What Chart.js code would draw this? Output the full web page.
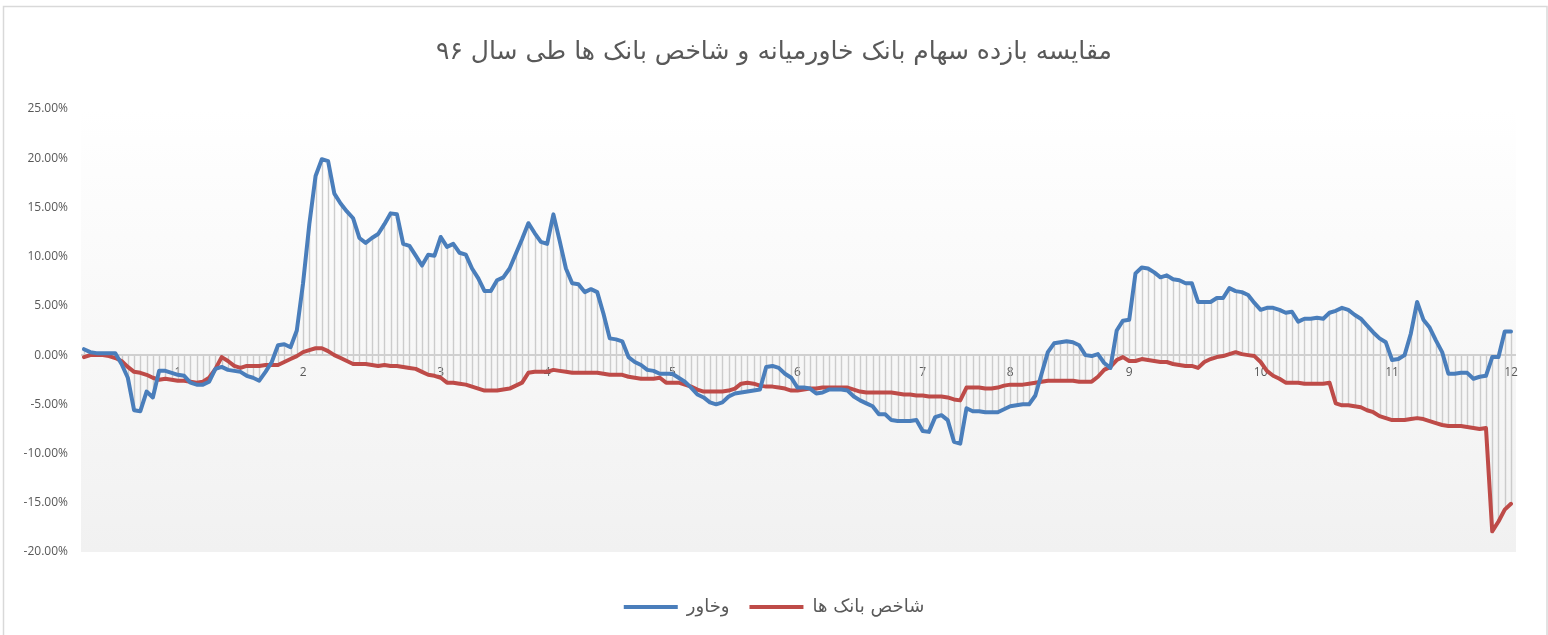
<!DOCTYPE html>
<html>
<head>
<meta charset="utf-8">
<script src="https://cdn.jsdelivr.net/npm/chart.js@4.4.1/dist/chart.umd.min.js"></script>
<style>
  html, body { margin: 0; padding: 0; background: #fff; }
  #wrap { width: 1548px; height: 635px; }
</style>
</head>
<body>
<div id="wrap"><canvas id="chart"></canvas></div>
<script>
// month numbers shown under the zero line (one entry per trading day)
const monthTicks = { 15: "1", 35: "2", 57: "3", 74: "4", 94: "5", 114: "6", 134: "7", 148: "8", 167: "9", 188: "10", 209: "11", 228: "12" }

// وخاور - daily return since start of year, %
const khavar = [
  0.6, 0.3, 0.2, 0.2, 0.2, 0.2, -0.9, -2.3, -5.6, -5.7,
  -3.7, -4.3, -1.6, -1.6, -1.8, -2.0, -2.1, -2.8, -3.0, -3.0,
  -2.7, -1.4, -1.2, -1.5, -1.6, -1.7, -2.1, -2.3, -2.6, -1.7,
  -0.7, 1.0, 1.1, 0.8, 2.5, 7.3, 13.3, 18.2, 19.9, 19.7,
  16.4, 15.4, 14.6, 13.9, 11.9, 11.4, 11.9, 12.3, 13.3, 14.4,
  14.3, 11.3, 11.1, 10.1, 9.1, 10.2, 10.1, 12.0, 11.0, 11.3,
  10.4, 10.2, 8.8, 7.8, 6.5, 6.5, 7.6, 7.9, 8.8, 10.3,
  11.8, 13.4, 12.4, 11.5, 11.3, 14.3, 11.6, 8.8, 7.3, 7.2,
  6.4, 6.7, 6.4, 4.2, 1.7, 1.6, 1.4, -0.2, -0.7, -1.0,
  -1.5, -1.6, -1.9, -1.9, -1.9, -2.3, -2.7, -3.3, -4.0, -4.3,
  -4.8, -5.0, -4.8, -4.2, -3.9, -3.8, -3.7, -3.6, -3.5, -1.2,
  -1.1, -1.3, -1.9, -2.3, -3.3, -3.3, -3.4, -3.9, -3.8, -3.5,
  -3.5, -3.5, -3.6, -4.2, -4.6, -4.9, -5.2, -6.0, -6.0, -6.6,
  -6.7, -6.7, -6.7, -6.6, -7.7, -7.8, -6.3, -6.1, -6.6, -8.8,
  -9.0, -5.4, -5.7, -5.7, -5.8, -5.8, -5.8, -5.5, -5.2, -5.1,
  -5.0, -5.0, -4.1, -1.9, 0.3, 1.2, 1.3, 1.4, 1.3, 1.0,
  0.0, -0.1, 0.1, -0.8, -1.3, 2.5, 3.5, 3.6, 8.3, 8.9,
  8.8, 8.4, 7.9, 8.1, 7.7, 7.6, 7.3, 7.3, 5.4, 5.4,
  5.4, 5.8, 5.8, 6.8, 6.5, 6.4, 6.1, 5.3, 4.6, 4.8,
  4.8, 4.6, 4.3, 4.4, 3.4, 3.7, 3.7, 3.8, 3.7, 4.3,
  4.5, 4.8, 4.6, 4.1, 3.7, 3.0, 2.3, 1.7, 1.3, -0.5,
  -0.4, 0.0, 2.2, 5.4, 3.6, 2.8, 1.5, 0.3, -1.9, -1.9,
  -1.8, -1.8, -2.4, -2.2, -2.1, -0.2, -0.2, 2.4, 2.4
]

// شاخص بانک ها - bank index return, %
const bankIndex = [
  -0.2, 0.0, 0.0, 0.0, -0.1, -0.3, -0.6, -1.2, -1.7, -1.8,
  -2.0, -2.3, -2.5, -2.4, -2.5, -2.6, -2.6, -2.7, -2.8, -2.7,
  -2.3, -1.4, -0.2, -0.6, -1.1, -1.3, -1.1, -1.1, -1.1, -1.0,
  -1.0, -1.0, -0.7, -0.4, -0.1, 0.3, 0.5, 0.7, 0.7, 0.4,
  0.0, -0.3, -0.6, -0.9, -0.9, -0.9, -1.0, -1.1, -1.0, -1.1,
  -1.1, -1.2, -1.3, -1.4, -1.7, -2.0, -2.1, -2.3, -2.8, -2.8,
  -2.9, -3.0, -3.2, -3.4, -3.6, -3.6, -3.6, -3.5, -3.4, -3.1,
  -2.8, -1.8, -1.7, -1.7, -1.7, -1.5, -1.6, -1.7, -1.8, -1.8,
  -1.8, -1.8, -1.8, -1.9, -2.0, -2.0, -2.0, -2.2, -2.3, -2.4,
  -2.4, -2.4, -2.3, -2.8, -2.8, -2.8, -3.0, -3.2, -3.5, -3.7,
  -3.7, -3.7, -3.7, -3.6, -3.4, -2.9, -2.8, -2.9, -3.1, -3.2,
  -3.2, -3.3, -3.4, -3.6, -3.6, -3.5, -3.4, -3.4, -3.3, -3.3,
  -3.3, -3.3, -3.3, -3.5, -3.7, -3.8, -3.8, -3.8, -3.8, -3.8,
  -3.9, -4.0, -4.0, -4.1, -4.1, -4.2, -4.2, -4.2, -4.3, -4.5,
  -4.6, -3.3, -3.3, -3.3, -3.4, -3.4, -3.3, -3.1, -3.0, -3.0,
  -3.0, -2.9, -2.8, -2.7, -2.6, -2.6, -2.6, -2.6, -2.6, -2.7,
  -2.7, -2.7, -2.2, -1.5, -1.2, -0.5, -0.2, -0.6, -0.6, -0.4,
  -0.5, -0.6, -0.7, -0.7, -0.9, -1.0, -1.1, -1.1, -1.3, -0.7,
  -0.4, -0.2, -0.1, 0.1, 0.3, 0.1, 0.0, -0.1, -0.7, -1.6,
  -2.1, -2.4, -2.8, -2.8, -2.8, -2.9, -2.9, -2.9, -2.9, -2.8,
  -4.9, -5.1, -5.1, -5.2, -5.3, -5.6, -5.8, -6.2, -6.4, -6.6,
  -6.6, -6.6, -6.5, -6.4, -6.5, -6.7, -6.9, -7.1, -7.2, -7.2,
  -7.2, -7.3, -7.4, -7.5, -7.4, -17.9, -16.9, -15.7, -15.1
]

const yTicks = [-20, -15, -10, -5, 0, 5, 10, 15, 20, 25]

const labels = khavar.map((v, i) => monthTicks[i] || "")

const textColor = "#595959"
const blue = "#4a7ebb"
const red = "#be4b48"

// white frame, gradient plot box, drop lines and zero line
const backdrop = {
  id: "backdrop",
  beforeDraw(chart) {
    const { ctx, chartArea } = chart
    ctx.save()
    ctx.fillStyle = "#fff"
    ctx.fillRect(0, 0, chart.width, chart.height)
    ctx.strokeStyle = "#d9d9d9"
    ctx.lineWidth = 1.5
    ctx.strokeRect(3.5, 6.5, chart.width - 4.5, chart.height + 10)
    const g = ctx.createLinearGradient(0, chartArea.top, 0, chartArea.bottom)
    g.addColorStop(0, "#ffffff")
    g.addColorStop(1, "#f1f1f1")
    ctx.fillStyle = g
    ctx.fillRect(chartArea.left - 3, chartArea.top, chartArea.right - chartArea.left + 8, chartArea.bottom - chartArea.top)
    ctx.restore()
  },
  beforeDatasetsDraw(chart) {
    const { ctx, chartArea, scales } = chart
    const x = scales.x, y = scales.y
    ctx.save()
    ctx.strokeStyle = "rgba(190,190,190,0.75)"
    ctx.lineWidth = 1.4
    ctx.beginPath()
    for (let i = 0; i < khavar.length; i++) {
      const hi = Math.max(0, khavar[i], bankIndex[i])
      const lo = Math.min(0, khavar[i], bankIndex[i])
      const px = Math.round(x.getPixelForValue(i)) + 0.5
      ctx.moveTo(px, y.getPixelForValue(hi))
      ctx.lineTo(px, y.getPixelForValue(lo))
    }
    ctx.stroke()
    ctx.strokeStyle = "#d0d0d0"
    ctx.lineWidth = 2
    const y0 = y.getPixelForValue(0)
    ctx.beginPath()
    ctx.moveTo(chartArea.left - 3, y0)
    ctx.lineTo(chartArea.right + 5, y0)
    ctx.stroke()
    ctx.restore()
  }
}

new Chart(document.getElementById("chart"), {
  type: "line",
  data: {
    labels: labels,
    datasets: [
      {
        label: "وخاور",
        data: khavar,
        borderColor: blue,
        backgroundColor: blue,
        borderWidth: 4,
        pointRadius: 0,
        tension: 0,
        borderJoinStyle: "round",
        borderCapStyle: "round"
      },
      {
        label: "شاخص بانک ها",
        data: bankIndex,
        borderColor: red,
        backgroundColor: red,
        borderWidth: 4,
        pointRadius: 0,
        tension: 0,
        borderJoinStyle: "round",
        borderCapStyle: "round"
      }
    ]
  },
  options: {
    responsive: true,
    maintainAspectRatio: false,
    animation: false,
    layout: { padding: { left: 0, right: 0, top: 0, bottom: 9 } },
    plugins: {
      tooltip: { enabled: false },
      title: {
        display: true,
        text: "مقایسه بازده سهام بانک خاورمیانه و شاخص بانک ها طی سال ۹۶",
        color: textColor,
        font: { family: "DejaVu Sans", size: 25, weight: "normal" },
        padding: { top: 37, bottom: 42 }
      },
      legend: {
        position: "bottom",
        title: {
          display: true,
          text: " ",
          font: { size: 10 },
          padding: { top: 7, bottom: 7 }
        },
        labels: {
          color: textColor,
          font: { family: "DejaVu Sans", size: 18 },
          boxWidth: 54,
          boxHeight: 4,
          padding: 20,
          useBorderRadius: true,
          borderRadius: 2,
          generateLabels(chart) {
            return chart.data.datasets.map((ds, i) => ({
              text: ds.label,
              fillStyle: ds.borderColor,
              strokeStyle: ds.borderColor,
              lineWidth: 0,
              fontColor: textColor,
              datasetIndex: i
            }))
          }
        }
      }
    },
    scales: {
      x: {
        type: "category",
        position: { y: 0 },
        offset: false,
        grid: { display: false },
        border: { display: false },
        ticks: {
          autoSkip: false,
          maxRotation: 0,
          color: textColor,
          font: { family: "Open Sans", size: 12 },
          padding: 2
        }
      },
      y: {
        min: -20,
        max: 25,
        afterBuildTicks(scale) {
          scale.ticks = yTicks.map(v => ({ value: v }))
        },
        afterFit(scale) { scale.width = 84 },
        grid: { display: false, drawTicks: false },
        border: { display: false },
        ticks: {
          color: textColor,
          font: { family: "Open Sans", size: 12 },
          padding: 16,
          callback: v => v.toFixed(2) + "%"
        }
      },
      // empty right-hand gutter so the title and legend stay centred on the page
      yRight: {
        position: "right",
        grid: { display: false, drawTicks: false },
        border: { display: false },
        ticks: { display: false },
        afterFit(scale) { scale.width = 37 }
      }
    }
  },
  plugins: [backdrop]
})
</script>
</body>
</html>
